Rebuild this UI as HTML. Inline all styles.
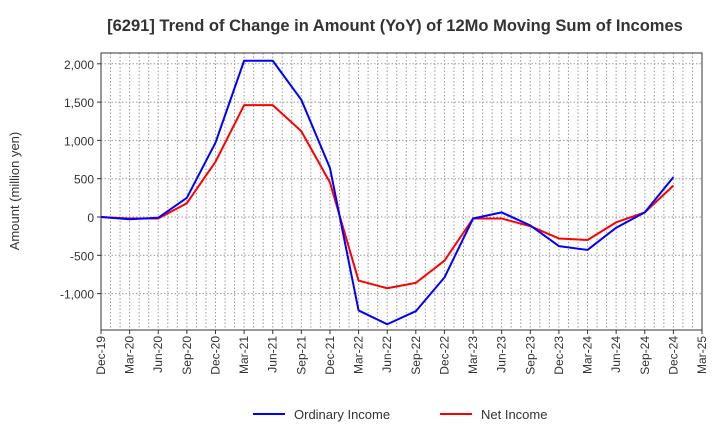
<!DOCTYPE html>
<html><head><meta charset="utf-8"><style>
body{margin:0;background:#fff;font-family:"Liberation Sans",sans-serif}
svg text{font-family:"Liberation Sans",sans-serif}
</style></head><body>
<svg id="c" width="720" height="440" xmlns="http://www.w3.org/2000/svg">
<text x="395" y="31" text-anchor="middle" font-size="16.5" font-weight="bold" fill="#333">[6291]  Trend of Change in Amount (YoY) of 12Mo Moving Sum of Incomes</text>
<text transform="translate(19,191) rotate(-90)" text-anchor="middle" font-size="13" fill="#333">Amount (million yen)</text>
<g id="grid"></g><g id="axes"></g><g id="lines"></g>
<g>
<line x1="253" y1="414" x2="285" y2="414" stroke="#0000ff" stroke-width="2"/>
<text x="294" y="419" font-size="13" fill="#333">Ordinary Income</text>
<line x1="440" y1="414" x2="472" y2="414" stroke="#ff0000" stroke-width="2"/>
<text x="481" y="419" font-size="13" fill="#333">Net Income</text>
</g>
</svg>
<script>
const categories=["Dec-19","Mar-20","Jun-20","Sep-20","Dec-20","Mar-21","Jun-21","Sep-21","Dec-21","Mar-22","Jun-22","Sep-22","Dec-22","Mar-23","Jun-23","Sep-23","Dec-23","Mar-24","Jun-24","Sep-24","Dec-24","Mar-25"];
const ordinaryIncome=[0,-30,-10,250,970,2040,2040,1530,640,-1220,-1400,-1230,-790,-20,60,-110,-380,-430,-140,60,520];
const netIncome=[0,-20,-20,180,720,1460,1460,1120,450,-830,-930,-860,-570,-20,-20,-120,-280,-300,-70,60,410];
const yTicks=[-1000,-500,0,500,1000,1500,2000];
const yTickLabels=["-1,000","-500","0","500","1,000","1,500","2,000"];
const L=101,R=702,T=53,B=330;
const step=(R-L)/(categories.length-1);
const x=i=>L+i*step;
const y=v=>217-v*38.3/500;
const NS="http://www.w3.org/2000/svg";
function mk(tag,attrs,parent,txt){const e=document.createElementNS(NS,tag);for(const k in attrs)e.setAttribute(k,attrs[k]);if(txt!==undefined)e.textContent=txt;parent.appendChild(e);return e;}
const grid=document.getElementById('grid'),axes=document.getElementById('axes'),lines=document.getElementById('lines');
for(let m=1;m<(categories.length-1)*3;m++){const gx=L+m*step/3;
const g=mk('line',{x1:gx,y1:T,x2:gx,y2:B,stroke:'#999','stroke-dasharray':'1.5,2','stroke-width':1},grid);

}
yTicks.forEach((v,i)=>{const g=mk('line',{x1:L,y1:y(v),x2:R,y2:y(v),stroke:'#999','stroke-dasharray':'1.5,2'},grid);


const t=mk('text',{x:L-7,y:y(v)+5,'text-anchor':'end','font-size':12,fill:'#333'},axes,yTickLabels[i]);


mk('line',{x1:L-4,y1:y(v),x2:L,y2:y(v),stroke:'#333'},axes);});
const fr=mk('rect',{x:L,y:T,width:R-L,height:B-T,fill:'none',stroke:'#333'},axes);


categories.forEach((c,i)=>{mk('line',{x1:x(i),y1:B,x2:x(i),y2:B+4,stroke:'#333'},axes);
const t=mk('text',{transform:`translate(${x(i)+4},${B+6}) rotate(-90)`,'text-anchor':'end','font-size':12,fill:'#333'},axes,c);

});
function series(d,col,name){const p=mk('polyline',{points:d.map((v,i)=>x(i)+','+y(v)).join(' '),fill:'none',stroke:col,'stroke-width':2,'stroke-linejoin':'round'},lines);

}
series(netIncome,'#ff0000','net-income-line');
series(ordinaryIncome,'#0000ff','ordinary-income-line');
</script>
</body></html>
